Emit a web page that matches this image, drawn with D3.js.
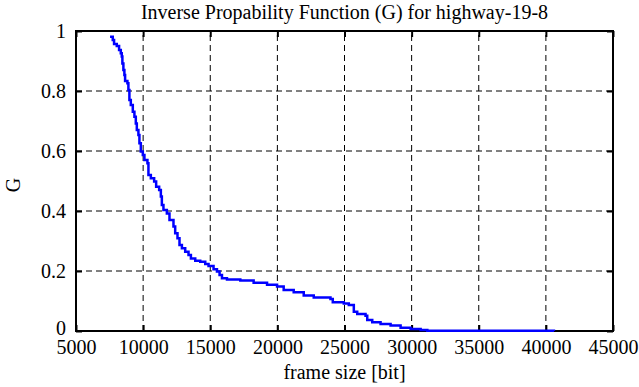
<!DOCTYPE html>
<html>
<head>
<meta charset="utf-8" />
<script src="https://cdn.jsdelivr.net/npm/d3@7"></script>
<style>
    body { margin: 0; background: #fff; }
    text { font-family: "Liberation Serif", "Times New Roman", serif; fill: #000; }
    .grid line { stroke: #000; stroke-width: 1; stroke-dasharray: 6,4; }
</style>
</head>
<body>
<script>
    // frame size [bit] where G drops, and the G value reached there
    var frameSize = [7537, 7738, 7836, 8037, 8209, 8336, 8410, 8455, 8530, 8604, 8657, 8829, 8903, 8978,
        9082, 9231, 9351, 9455, 9530, 9649, 9724, 9828, 9977, 10097, 10321, 10396, 10575, 10821, 10970,
        11194, 11320, 11395, 11514, 11768, 11963, 12261, 12388, 12560, 12709, 12888, 13134, 13381, 13559,
        13881, 14254, 14627, 14873, 15246, 15500, 15694, 15873, 16246, 17239, 18232, 19231, 19977, 20470,
        21216, 21963, 22709, 23955, 24127, 24948, 25321, 25694, 25948, 26567, 26694, 27067, 27687, 28433,
        29179, 29925, 30672, 31170, 40600];
    var gValue = [0.981, 0.970, 0.957, 0.950, 0.937, 0.926, 0.915, 0.892, 0.870, 0.853, 0.833, 0.826, 0.803, 0.770,
        0.753, 0.731, 0.714, 0.692, 0.670, 0.653, 0.626, 0.598, 0.587, 0.570, 0.559, 0.520, 0.509, 0.498, 0.481,
        0.470, 0.448, 0.420, 0.403, 0.392, 0.370, 0.348, 0.326, 0.309, 0.287, 0.276, 0.264, 0.253, 0.242,
        0.234, 0.231, 0.223, 0.217, 0.206, 0.198, 0.187, 0.176, 0.172, 0.168, 0.161, 0.154, 0.148, 0.137,
        0.129, 0.118, 0.112, 0.107, 0.096, 0.092, 0.087, 0.064, 0.057, 0.051, 0.037, 0.029, 0.023, 0.018,
        0.011, 0.0067, 0.0033, 0.001, 0];

    var xTicks = [5000, 10000, 15000, 20000, 25000, 30000, 35000, 40000, 45000];
    var yTicks = [0, 0.2, 0.4, 0.6, 0.8, 1];

    var width = 639,
        height = 387,
        margin = { top: 31, right: 26, bottom: 56, left: 76 };

    var serif = "'Liberation Serif', 'Times New Roman', serif";

    var x = d3.scaleLinear().domain([5000, 45000]).range([margin.left, width - margin.right]);
    var y = d3.scaleLinear().domain([0, 1]).range([height - margin.bottom, margin.top]);

    var svg = d3.select("body").append("svg")
        .attr("width", width)
        .attr("height", height);

    // dashed grid
    var grid = svg.append("g").attr("class", "grid");
    grid.selectAll(".gx")
        .data(xTicks.slice(1, -1))
        .enter().append("line")
        .attr("x1", function (d) { return x(d); })
        .attr("x2", function (d) { return x(d); })
        .attr("y1", y(0))
        .attr("y2", y(1));
    grid.selectAll(".gy")
        .data(yTicks.slice(1, -1))
        .enter().append("line")
        .attr("x1", x(5000))
        .attr("x2", x(45000))
        .attr("y1", function (d) { return y(d); })
        .attr("y2", function (d) { return y(d); });

    // axes, ticks pointing inward like gnuplot
    var tickLen = 6;
    function styleAxis(g) {
        g.select(".domain").remove();
        g.attr("font-family", serif).attr("font-size", 20);
        g.selectAll("line").attr("stroke-width", 2);
        g.selectAll("text").style("font-family", serif);
    }
    svg.append("g")
        .attr("transform", "translate(0," + y(0) + ")")
        .call(d3.axisBottom(x).tickValues(xTicks).tickSizeInner(-tickLen).tickSizeOuter(0).tickPadding(9)
            .tickFormat(d3.format("d")))
        .call(styleAxis);
    svg.append("g")
        .attr("transform", "translate(0," + y(1) + ")")
        .call(d3.axisTop(x).tickValues(xTicks).tickSizeInner(-tickLen).tickSizeOuter(0).tickFormat(""))
        .call(styleAxis);
    svg.append("g")
        .attr("transform", "translate(" + x(5000) + ",0)")
        .call(d3.axisLeft(y).tickValues(yTicks).tickSizeInner(-tickLen).tickSizeOuter(0).tickPadding(10)
            .tickFormat(d3.format("")))
        .call(styleAxis)
        .call(function (g) {
            // lift the "0" label a little so it clears "5000"
            g.selectAll(".tick text").filter(function (d) { return d === 0; }).attr("y", -3);
        });
    svg.append("g")
        .attr("transform", "translate(" + x(45000) + ",0)")
        .call(d3.axisRight(y).tickValues(yTicks).tickSizeInner(-tickLen).tickSizeOuter(0).tickFormat(""))
        .call(styleAxis);

    // border
    svg.append("rect")
        .attr("x", x(5000))
        .attr("y", y(1))
        .attr("width", x(45000) - x(5000))
        .attr("height", y(0) - y(1))
        .attr("fill", "none")
        .attr("stroke", "#000")
        .attr("stroke-width", 2);

    // curve
    var points = frameSize.map(function (d, i) { return [d, gValue[i]]; });
    var line = d3.line()
        .x(function (d) { return x(d[0]); })
        .y(function (d) { return y(d[1]); })
        .curve(d3.curveStepAfter);
    svg.append("path")
        .datum(points)
        .attr("d", line)
        .attr("fill", "none")
        .attr("stroke", "#0000ff")
        .attr("stroke-width", 2.5);

    // labels
    svg.append("text")
        .attr("x", (x(5000) + x(45000)) / 2)
        .attr("y", 19)
        .attr("text-anchor", "middle")
        .attr("font-size", 20)
        .text("Inverse Propability Function (G) for highway-19-8");
    svg.append("text")
        .attr("x", (x(5000) + x(45000)) / 2)
        .attr("y", 379)
        .attr("text-anchor", "middle")
        .attr("font-size", 20)
        .text("frame size [bit]");
    svg.append("text")
        .attr("transform", "translate(20," + ((y(0) + y(1)) / 2 + 4) + ") rotate(-90)")
        .attr("text-anchor", "middle")
        .attr("font-size", 20)
        .text("G");
</script>
</body>
</html>
